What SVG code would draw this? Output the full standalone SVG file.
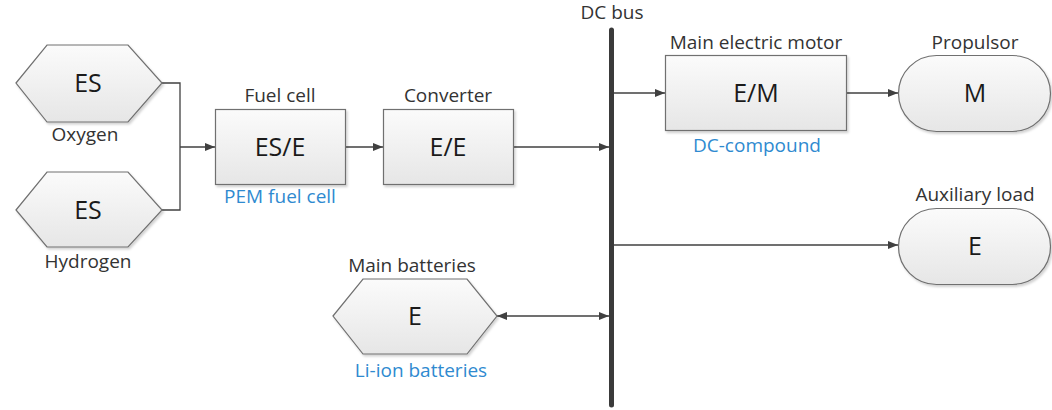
<svg xmlns="http://www.w3.org/2000/svg" width="1052" height="410" viewBox="0 0 1052 410">
<style>
.shape{fill:url(#g);stroke:#707070;stroke-width:1.2;filter:url(#sh)}
.big{font-family:"Open Sans","Liberation Sans",sans-serif;font-size:25px;fill:#1a1a1a;text-anchor:middle}
.lbl{font-family:"Open Sans","Liberation Sans",sans-serif;font-size:19px;fill:#333;text-anchor:middle}
.sub{font-family:"Open Sans","Liberation Sans",sans-serif;font-size:19px;fill:#2f8ad0;text-anchor:middle}
.c{fill:none;stroke:#404040;stroke-width:1.3}
</style>
<defs>
<linearGradient id="g" x1="0" y1="0" x2="0" y2="1">
<stop offset="0" stop-color="#fbfbfb"/>
<stop offset="1" stop-color="#e6e6e6"/>
</linearGradient>
<filter id="sh" x="-10%" y="-10%" width="130%" height="130%">
<feDropShadow dx="1.5" dy="2" stdDeviation="1.2" flood-color="#000" flood-opacity="0.18"/>
</filter>
<marker id="a" viewBox="0 0 10 10" refX="10" refY="5" markerWidth="10" markerHeight="10" markerUnits="userSpaceOnUse" orient="auto-start-reverse">
<path d="M0,1 L10,5 L0,9 z" fill="#404040"/>
</marker>
</defs>

<g id="connectors">
<path class="c" d="M162,83 H180 V210 H162"/>
<path class="c" d="M180,147 H215" marker-end="url(#a)"/>
<path class="c" d="M345,147 H383" marker-end="url(#a)"/>
<path class="c" d="M513,147 H609" marker-end="url(#a)"/>
<path class="c" d="M614,93 H665" marker-end="url(#a)"/>
<path class="c" d="M847,93 H898" marker-end="url(#a)"/>
<path class="c" d="M614,245 H898" marker-end="url(#a)"/>
<path class="c" d="M497,316 H609" marker-start="url(#a)" marker-end="url(#a)"/>
</g>

<g id="dc-bus">
<line x1="611.5" y1="30" x2="611.5" y2="405" stroke="#3a3a3a" stroke-width="5" stroke-linecap="round"/>
<text class="lbl" x="612" y="19">DC bus</text>
</g>

<g id="oxygen">
<polygon class="shape" points="16,83 47,45 128,45 162,83 128,122 47,122"/>
<text class="big" x="88" y="92">ES</text>
<text class="lbl" x="85" y="141">Oxygen</text>
</g>

<g id="hydrogen">
<polygon class="shape" points="16,210 47,172 128,172 162,210 128,247 47,247"/>
<text class="big" x="88" y="219">ES</text>
<text class="lbl" x="88" y="268">Hydrogen</text>
</g>

<g id="fuel-cell">
<rect class="shape" x="215.5" y="109.5" width="130" height="75"/>
<text class="big" x="280" y="156">ES/E</text>
<text class="lbl" x="280" y="102">Fuel cell</text>
<text class="sub" x="280" y="203">PEM fuel cell</text>
</g>

<g id="converter">
<rect class="shape" x="383.5" y="109.5" width="130" height="75"/>
<text class="big" x="448" y="156">E/E</text>
<text class="lbl" x="448" y="102">Converter</text>
</g>

<g id="motor">
<rect class="shape" x="665.5" y="55.5" width="181" height="75"/>
<text class="big" x="756" y="102">E/M</text>
<text class="lbl" x="756" y="49">Main electric motor</text>
<text class="sub" x="757" y="152">DC-compound</text>
</g>

<g id="propulsor">
<rect class="shape" x="898.5" y="55.5" width="152" height="76" rx="38" ry="38"/>
<text class="big" x="975" y="102">M</text>
<text class="lbl" x="975" y="49">Propulsor</text>
</g>

<g id="auxiliary-load">
<rect class="shape" x="898.5" y="208.5" width="152" height="76" rx="38" ry="38"/>
<text class="big" x="975" y="255">E</text>
<text class="lbl" x="975" y="201">Auxiliary load</text>
</g>

<g id="batteries">
<polygon class="shape" points="333,316 363,279 467,279 497,316 467,354 363,354"/>
<text class="big" x="415" y="325">E</text>
<text class="lbl" x="412" y="272">Main batteries</text>
<text class="sub" x="421" y="377">Li-ion batteries</text>
</g>
</svg>
